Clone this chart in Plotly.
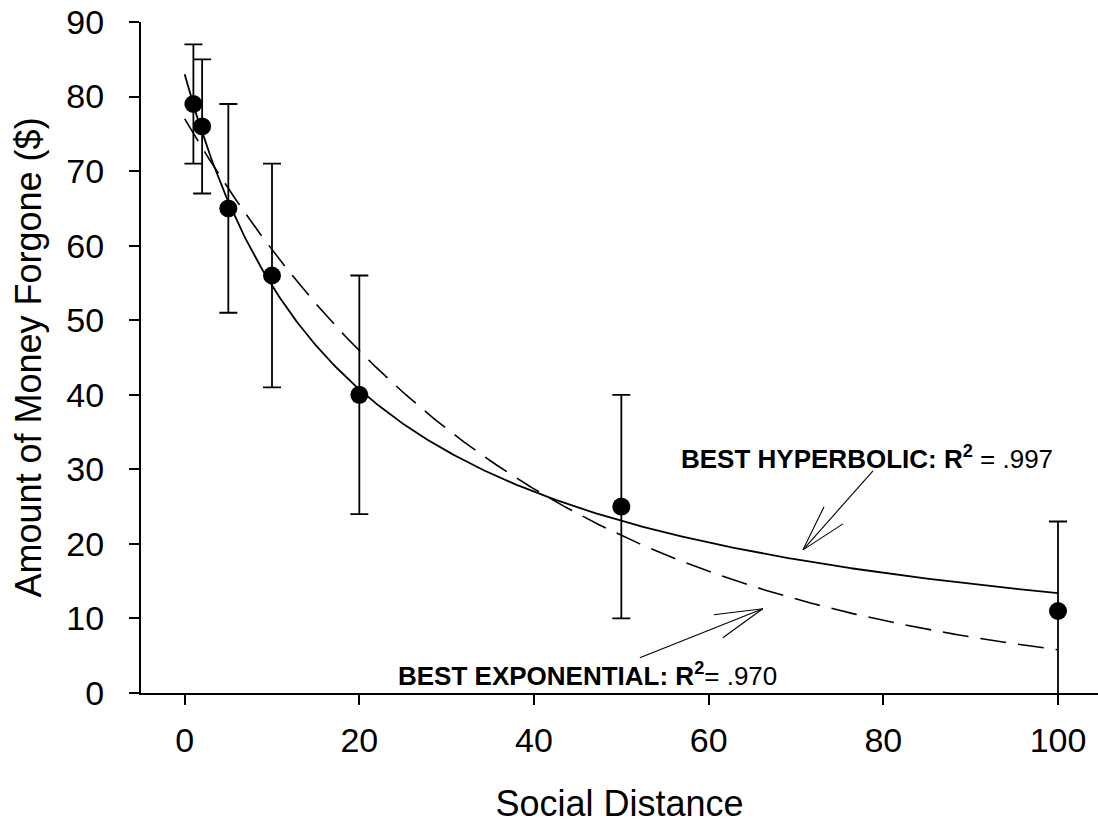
import numpy as np
import plotly.graph_objects as go

# ---- data ----
social_distance = [1, 2, 5, 10, 20, 50, 100]
money_forgone = [79, 76, 65, 56, 40, 25, 11]
error_half = [8, 9, 14, 15, 16, 15, 12]

# fitted model parameters
hyp_V, hyp_k = 83.0, 0.0519      # v = V / (1 + k N)
exp_A, exp_k = 77.0, 0.02586     # v = A * exp(-k N)

x_ticks = [0, 20, 40, 60, 80, 100]
y_ticks = [0, 10, 20, 30, 40, 50, 60, 70, 80, 90]

hyp_label = "<b>BEST HYPERBOLIC: R<sup>2</sup></b> = .997"
exp_label = "<b>BEST EXPONENTIAL: R<sup>2</sup></b>= .970"

FONT = "Liberation Sans, Arial, Helvetica, sans-serif"

n = np.linspace(0, 100, 401)
hyp_curve = hyp_V / (1 + hyp_k * n)
exp_curve = exp_A * np.exp(-exp_k * n)

fig = go.Figure()
fig.add_trace(go.Scatter(x=n, y=exp_curve, mode="lines",
                         line=dict(color="black", width=1.6, dash="26px,12px"),
                         hoverinfo="skip", showlegend=False))
fig.add_trace(go.Scatter(x=n, y=hyp_curve, mode="lines",
                         line=dict(color="black", width=1.8),
                         hoverinfo="skip", showlegend=False))
fig.add_trace(go.Scatter(
    x=social_distance, y=money_forgone, mode="markers",
    marker=dict(color="black", size=18),
    error_y=dict(type="data", array=error_half, visible=True,
                 color="black", thickness=1.8, width=9),
    showlegend=False))

annotations = [
    dict(x=56.6, y=31.6, xref="x", yref="y", text=hyp_label, showarrow=False,
         xanchor="left", yanchor="middle", font=dict(family=FONT, size=26, color="black")),
    dict(x=24.2, y=2.5, xref="x", yref="y", text=exp_label, showarrow=False,
         xanchor="left", yanchor="middle", font=dict(family=FONT, size=26, color="black")),
]

# arrows: shaft + two barbs (open arrowhead), pixel offsets from the tip
arrow_specs = [
    (70.8, 19.2, [(70, 79), (21, 43), (40, 26)]),
    (66.2, 11.3, [(-123, -49), (-49, -6), (-40, -29)]),
]
shapes = []
for tx, ty, segs in arrow_specs:
    for dx, dy in segs:
        shapes.append(dict(type="line", xref="x", yref="y",
                           xsizemode="pixel", ysizemode="pixel",
                           xanchor=tx, yanchor=ty,
                           x0=0, y0=0, x1=dx, y1=dy,
                           line=dict(color="black", width=1.1)))

fig.update_layout(
    width=1098, height=831,
    margin=dict(l=141, r=0, t=22, b=138),
    paper_bgcolor="white", plot_bgcolor="white",
    font=dict(family=FONT, color="black"),
    annotations=annotations,
    shapes=shapes,
    xaxis=dict(range=[-5.0, 104.58], tickvals=x_ticks, ticks="outside",
               ticklen=10, tickwidth=2, tickcolor="black",
               showline=True, linecolor="black", linewidth=2,
               showgrid=False, zeroline=False,
               tickfont=dict(size=34, family=FONT),
               ticklabelstandoff=6,
               title=dict(text="Social Distance", font=dict(size=36, family=FONT),
                          standoff=33)),
    yaxis=dict(range=[0, 90], tickvals=y_ticks, ticks="outside",
               ticklen=10, tickwidth=2, tickcolor="black",
               showline=True, linecolor="black", linewidth=2,
               showgrid=False, zeroline=False,
               tickfont=dict(size=34, family=FONT),
               ticklabelstandoff=18,
               title=dict(text="Amount of Money Forgone ($)",
                          font=dict(size=36, family=FONT), standoff=14)),
)

fig.write_html("out.html")
